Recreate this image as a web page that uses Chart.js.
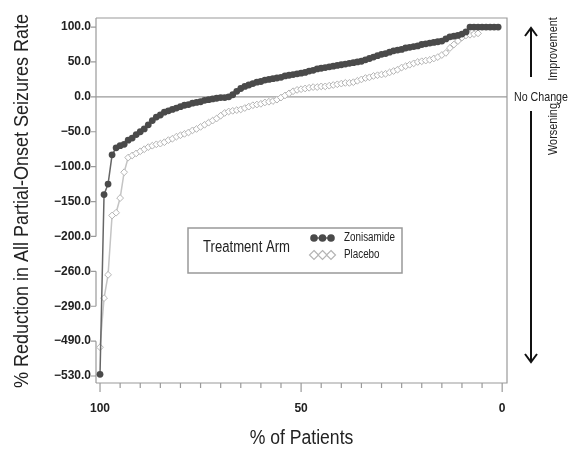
<!DOCTYPE html>
<html>
<head>
<meta charset="utf-8">
<script src="https://cdn.jsdelivr.net/npm/chart.js@4/dist/chart.umd.min.js"></script>
<style>
  html, body { margin: 0; padding: 0; background: #fff; }
  #wrap { width: 576px; height: 460px; }
</style>
</head>
<body>
<div id="wrap"><canvas id="c" width="576" height="460"></canvas></div>
<script>
// ---- Data ----
const yTickValues = [100, 50, 0, -50, -100, -150, -200, -260, -290, -490, -530];
const yTickLabels = ['100.0', '50.0', '0.0', '\u221250.0', '\u2212100.0', '\u2212150.0', '\u2212200.0',
                     '\u2212260.0', '\u2212290.0', '\u2212490.0', '\u2212530.0'];
const xTickLabels = { 100: '100', 50: '50', 0: '0' };

const zonPct = [100, 99, 98, 97, 96, 95, 94, 93, 92, 91, 90, 89, 88, 87, 86, 85, 84, 83, 82, 81,
                80, 79, 78, 77, 76, 75, 74, 73, 72, 71, 70, 69, 68, 67, 66, 65, 64, 63, 62, 61,
                60, 59, 58, 57, 56, 55, 54, 53, 52, 51, 50, 49, 48, 47, 46, 45, 44, 43, 42, 41,
                40, 39, 38, 37, 36, 35, 34, 33, 32, 31, 30, 29, 28, 27, 26, 25, 24, 23, 22, 21,
                20, 19, 18, 17, 16, 15, 14, 13, 12, 11, 10, 9, 8, 7, 6, 5, 4, 3, 2, 1];
const zonVal = [-528, -140, -125, -83, -73, -70, -68, -62, -59, -54, -50, -46, -40, -34, -29, -26, -22, -20, -18, -16,
                -14, -12, -11, -9, -8, -7, -5, -4, -3, -2, -1, -1, 0, 3, 8, 12, 15, 17, 19, 21,
                22, 24, 25, 26, 27, 28, 30, 31, 32, 33, 34, 35, 37, 38, 40, 41, 42, 43, 44, 45,
                46, 47, 48, 49, 50, 51, 53, 55, 57, 59, 61, 62, 64, 66, 67, 68, 70, 71, 72, 73,
                75, 76, 77, 78, 79, 80, 83, 86, 87, 88, 90, 93, 100, 100, 100, 100, 100, 100, 100, 100];

const plaPct = [100, 99, 98, 97, 96, 95, 94, 93, 92, 91, 90, 89, 88, 87, 86, 85, 84, 83, 82, 81,
                80, 79, 78, 77, 76, 75, 74, 73, 72, 71, 70, 69, 68, 67, 66, 65, 64, 63, 62, 61,
                60, 59, 58, 57, 56, 55, 54, 53, 52, 51, 50, 49, 48, 47, 46, 45, 44, 43, 42, 41,
                40, 39, 38, 37, 36, 35, 34, 33, 32, 31, 30, 29, 28, 27, 26, 25, 24, 23, 22, 21,
                20, 19, 18, 17, 16, 15, 14, 13, 12, 11, 10, 9, 8, 7, 6];
const plaVal = [-497, -283, -263, -170, -166, -145, -108, -87, -84, -81, -78, -75, -72, -70, -68, -67, -65, -62, -60, -57,
                -55, -53, -51, -48, -46, -43, -40, -37, -34, -31, -27, -23, -21, -20, -19, -18, -16, -14, -12, -11,
                -10, -8, -7, -6, -4, -1, 2, 5, 8, 10, 11, 12, 13, 14, 14, 15, 15, 16, 17, 18,
                19, 20, 20, 21, 23, 25, 27, 28, 30, 31, 32, 33, 35, 37, 39, 42, 44, 46, 48, 50,
                51, 52, 53, 55, 57, 60, 63, 70, 75, 80, 85, 88, 89, 90, 91];

// ---- Broken y axis: each tick gets one evenly spaced slot ----
function toSlot(v) {
  for (let k = 0; k < yTickValues.length - 1; k++) {
    const a = yTickValues[k], b = yTickValues[k + 1];
    if (v <= a && v >= b) return -(k + (a - v) / (a - b));
  }
  return v > yTickValues[0] ? 0 : -(yTickValues.length - 1);
}
const toPoints = (xs, ys) => xs.map((x, i) => ({ x, y: toSlot(ys[i]) }));

const FONT = "'Liberation Sans', Arial, sans-serif";
const FRAME = '#9a9a9a';

// condensed-looking text: squeeze along the reading direction
function label(ctx, text, x, y, size, squeeze, opts = {}) {
  ctx.save();
  ctx.translate(x, y);
  if (opts.rotate) ctx.rotate(opts.rotate);
  ctx.scale(squeeze, 1);
  ctx.font = `${opts.weight || 'normal'} ${size}px ${FONT}`;
  ctx.textAlign = opts.align || 'center';
  ctx.textBaseline = 'middle';
  ctx.fillStyle = '#222';
  ctx.fillText(text, 0, 0);
  ctx.restore();
}

// ---- Frame, ticks, titles, arrows, legend ----
const decorations = {
  id: 'decorations',
  beforeDatasetsDraw(chart) {
    const { ctx, chartArea: a, scales: { x, y } } = chart;
    ctx.save();
    ctx.strokeStyle = FRAME;
    ctx.lineWidth = 1.2;
    // top, right, bottom frame
    ctx.beginPath();
    ctx.moveTo(a.left, a.top); ctx.lineTo(a.right, a.top); ctx.lineTo(a.right, a.bottom); ctx.lineTo(a.left, a.bottom);
    // zero line
    const y0 = y.getPixelForValue(toSlot(0));
    ctx.moveTo(a.left, y0); ctx.lineTo(a.right, y0);
    ctx.stroke();

    // left axis with breaks
    const py = i => y.getPixelForValue(-i);
    ctx.beginPath();
    ctx.moveTo(a.left, a.top); ctx.lineTo(a.left, py(6));
    ctx.moveTo(a.left, py(7)); ctx.lineTo(a.left, py(8));
    ctx.moveTo(a.left, py(9)); ctx.lineTo(a.left, a.bottom);
    yTickValues.forEach((_, i) => { ctx.moveTo(a.left - 5, py(i)); ctx.lineTo(a.left, py(i)); });
    // x ticks
    for (let v = 0; v <= 100; v += 5) {
      const px = x.getPixelForValue(v);
      const len = v % 50 === 0 ? 9 : 5;
      ctx.moveTo(px, a.bottom); ctx.lineTo(px, a.bottom + len);
    }
    ctx.stroke();
    ctx.restore();
  },
  afterDraw(chart) {
    const { ctx, chartArea: a } = chart;
    // axis titles
    label(ctx, '% of Patients', (a.left + a.right) / 2, 438, 20, 0.88);
    label(ctx, '% Reduction in All Partial-Onset Seizures Rate', 22, 201, 20, 0.9, { rotate: -Math.PI / 2 });

    // right side annotations
    label(ctx, 'No Change', 541, 97, 13, 0.82);
    label(ctx, 'Improvement', 553, 49, 13, 0.84, { rotate: -Math.PI / 2 });
    label(ctx, 'Worsening', 553, 129, 13, 0.84, { rotate: -Math.PI / 2 });

    ctx.save();
    ctx.strokeStyle = '#111';
    ctx.lineWidth = 2;
    ctx.beginPath();
    ctx.moveTo(531, 77); ctx.lineTo(531, 28);
    ctx.moveTo(525, 36); ctx.lineTo(531, 28); ctx.lineTo(537, 36);
    ctx.moveTo(531, 111); ctx.lineTo(531, 362);
    ctx.moveTo(525, 354); ctx.lineTo(531, 362); ctx.lineTo(537, 354);
    ctx.stroke();

    // legend box
    ctx.fillStyle = '#fff';
    ctx.fillRect(188, 228, 214, 45);
    ctx.strokeStyle = '#999';
    ctx.lineWidth = 1.5;
    ctx.strokeRect(188, 228, 214, 45);
    ctx.restore();
    label(ctx, 'Treatment Arm', 203, 248, 16, 0.82, { align: 'left' });
    label(ctx, 'Zonisamide', 344, 238, 12, 0.82, { align: 'left' });
    label(ctx, 'Placebo', 344, 255, 12, 0.82, { align: 'left' });

    const ds = chart.data.datasets;
    ctx.save();
    // zonisamide sample
    ctx.strokeStyle = ds[0].borderColor; ctx.lineWidth = 1.5;
    ctx.beginPath(); ctx.moveTo(314, 238); ctx.lineTo(331, 238); ctx.stroke();
    ctx.fillStyle = ds[0].pointBackgroundColor;
    [314, 322.5, 331].forEach(cx => { ctx.beginPath(); ctx.arc(cx, 238, 3.8, 0, Math.PI * 2); ctx.fill(); });
    // placebo sample
    ctx.strokeStyle = ds[1].borderColor;
    ctx.beginPath(); ctx.moveTo(314, 255); ctx.lineTo(331, 255); ctx.stroke();
    ctx.strokeStyle = ds[1].pointBorderColor; ctx.lineWidth = 1.2; ctx.fillStyle = '#fff';
    [314, 322.5, 331].forEach(cx => {
      ctx.beginPath();
      ctx.moveTo(cx, 250.5); ctx.lineTo(cx + 4.5, 255); ctx.lineTo(cx, 259.5); ctx.lineTo(cx - 4.5, 255); ctx.closePath();
      ctx.fill(); ctx.stroke();
    });
    ctx.restore();
  },
};

new Chart(document.getElementById('c'), {
  type: 'line',
  data: {
    datasets: [
      {
        label: 'Zonisamide',
        data: toPoints(zonPct, zonVal),
        borderColor: '#666',
        borderWidth: 1.5,
        pointStyle: 'circle',
        pointRadius: 3.4,
        pointBorderWidth: 0,
        pointBackgroundColor: '#4a4a4a',
        pointBorderColor: '#4a4a4a',
        tension: 0,
      },
      {
        label: 'Placebo',
        data: toPoints(plaPct, plaVal),
        borderColor: '#c4c4c4',
        borderWidth: 1.5,
        pointStyle: 'rectRot',
        pointRadius: 3.4,
        pointBorderWidth: 1,
        pointBackgroundColor: '#fff',
        pointBorderColor: '#b4b4b4',
        tension: 0,
      },
    ],
  },
  options: {
    responsive: false,
    devicePixelRatio: 1,
    animation: false,
    layout: { padding: { left: 0, top: 18, right: 69, bottom: 0 } },
    scales: {
      x: {
        type: 'linear',
        reverse: true,
        min: -1.2,
        max: 101,
        afterFit: s => { s.height = 77; },
        afterBuildTicks: s => { s.ticks = [100, 50, 0].map(v => ({ value: v })); },
        border: { display: false },
        grid: { display: false, drawTicks: false },
        ticks: {
          autoSkip: false,
          maxRotation: 0,
          padding: 18,
          color: '#222',
          font: { family: FONT, size: 12, weight: 'bold' },
          callback: v => xTickLabels[v] ?? '',
        },
      },
      y: {
        type: 'linear',
        min: -10.2,
        max: 0.26,
        afterFit: s => { s.width = 96; },
        afterBuildTicks: s => { s.ticks = yTickValues.map((_, i) => ({ value: -i })); },
        border: { display: false },
        grid: { display: false, drawTicks: false },
        ticks: {
          padding: 5,
          color: '#222',
          font: { family: FONT, size: 12, weight: 'bold' },
          callback: v => yTickLabels[Math.round(-v)],
        },
      },
    },
    plugins: {
      legend: { display: false },
      tooltip: { enabled: false },
    },
  },
  plugins: [decorations],
});
</script>
</body>
</html>
